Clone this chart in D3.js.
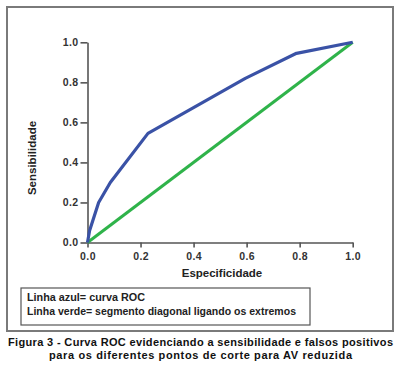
<!DOCTYPE html>
<html><head><meta charset="utf-8">
<script src="https://cdn.jsdelivr.net/npm/d3@7"></script>
<style>
body{margin:0;background:#fff;}
svg{display:block;}
</style></head>
<body>
<svg id="chart" width="398" height="370"></svg>
<script>
// Data
const rocX = [0.0, 0.008, 0.042, 0.086, 0.228, 0.595, 0.788, 1.0];
const rocY = [0.0, 0.06, 0.20, 0.30, 0.545, 0.82, 0.945, 1.0];
const diagX = [0.0, 1.0];
const diagY = [0.0, 1.0];
const tickValues = [0.0, 0.2, 0.4, 0.6, 0.8, 1.0];
const xTitle = "Especificidade";
const yTitle = "Sensibilidade";
const legendLines = ["Linha azul= curva ROC", "Linha verde= segmento diagonal ligando os extremos"];
const captionLines = ["Figura 3 - Curva ROC evidenciando a sensibilidade e falsos positivos",
                      "para os diferentes pontos de corte para AV reduzida"];

const svg = d3.select("#chart");
const font = "'Liberation Sans', Arial, Helvetica, sans-serif";

// outer frame
svg.append("rect").attr("x",7).attr("y",7).attr("width",386).attr("height",324)
  .attr("fill","none").attr("stroke","#7a7a7a").attr("stroke-width",2);

const x = d3.scaleLinear().domain([0,1]).range([87.5,352.7]);
const y = d3.scaleLinear().domain([0,1]).range([242.5,42.3]);

const fmt = d3.format(".1f");
const gx = svg.append("g").attr("transform",`translate(0,${y(0)})`)
  .call(d3.axisBottom(x).tickValues(tickValues).tickFormat(fmt).tickSize(5).tickSizeOuter(0));
const gy = svg.append("g").attr("transform",`translate(${x(0)},0)`)
  .call(d3.axisLeft(y).tickValues(tickValues).tickFormat(fmt).tickSize(7).tickSizeOuter(0));
[gx,gy].forEach(g=>{
  g.select(".domain").attr("stroke","#555").attr("stroke-width",1.6);
  g.selectAll(".tick line").attr("stroke","#555").attr("stroke-width",1.6);
  g.selectAll(".tick text").attr("fill","#333").attr("font-family",font)
    .attr("font-size","10.5px").attr("font-weight","bold").attr("letter-spacing","0.4px");
});
gx.selectAll(".tick text").attr("y",10).attr("dy","0.71em");
gy.selectAll(".tick text").attr("x",-9);

const line = d3.line().x(d=>x(d[0])).y(d=>y(d[1]));
svg.append("path").datum(diagX.map((v,i)=>[v,diagY[i]]))
  .attr("d",line).attr("fill","none").attr("stroke","#2fb34a").attr("stroke-width",3);
svg.append("path").datum(rocX.map((v,i)=>[v,rocY[i]]))
  .attr("d",line).attr("fill","none").attr("stroke","#3a52a6").attr("stroke-width",3.2)
  .attr("stroke-linejoin","round");

// axis titles
svg.append("text").attr("x",222).attr("y",277).attr("text-anchor","middle")
  .attr("font-family",font).attr("font-weight","bold").attr("font-size","11.5px").attr("fill","#222")
  .text(xTitle);
svg.append("text").attr("transform","translate(36,158) rotate(-90)").attr("text-anchor","middle")
  .attr("font-family",font).attr("font-weight","bold").attr("font-size","11.5px").attr("fill","#222")
  .text(yTitle);

// legend box
svg.append("rect").attr("x",21).attr("y",288).attr("width",289).attr("height",37)
  .attr("fill","none").attr("stroke","#555").attr("stroke-width",1.2);
const lw = [118, 269];
legendLines.forEach((t,i)=>{
  svg.append("text").attr("x",27).attr("y",301+i*13.5)
    .attr("font-family",font).attr("font-weight","bold").attr("font-size","10.5px").attr("fill","#222")
    .attr("textLength",lw[i]).attr("lengthAdjust","spacingAndGlyphs")
    .text(t);
});

// caption
const cw = [385, 303];
captionLines.forEach((t,i)=>{
  svg.append("text").attr("x",200.5).attr("y",346+i*13).attr("text-anchor","middle")
    .attr("font-family",font).attr("font-weight","bold").attr("font-size","11px").attr("fill","#111")
    .attr("textLength",cw[i]).attr("lengthAdjust","spacing")
    .text(t);
});
</script>
</body></html>
